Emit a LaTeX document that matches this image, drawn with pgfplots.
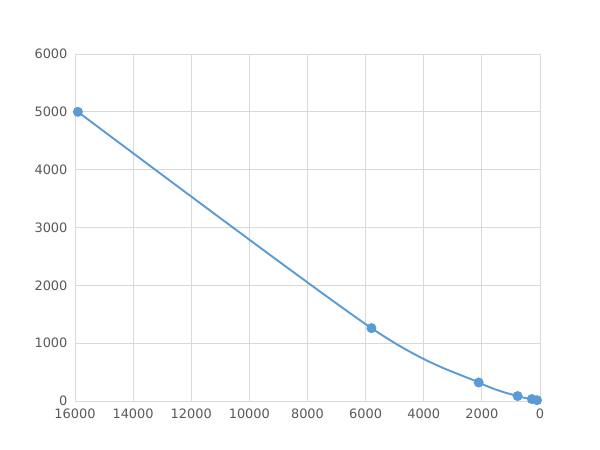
\documentclass[border=0pt]{standalone}
\usepackage{fontspec}
\setmainfont{DejaVu Sans}
\usepackage{pgfplots}
\pgfplotsset{compat=1.18}
\definecolor{lineblue}{HTML}{5B9BD5}
\definecolor{gridgray}{HTML}{D9D9D9}
\definecolor{labelgray}{HTML}{595959}
\begin{document}
\fontsize{13}{15}\selectfont
\begin{tikzpicture}
\begin{axis}[
  name=main,
  scale only axis,
  width=465bp,
  height=347bp,
  x dir=reverse,
  xmin=0, xmax=16000,
  ymin=0, ymax=6000,
  xtick distance=2000,
  ytick distance=1000,
  grid=major,
  major grid style={gridgray, line width=0.8bp},
  axis line style={gridgray, line width=0.8bp},
  tick style={draw=none},
  ticklabel style={font=\fontsize{13}{15}\selectfont, text=labelgray},
  x tick label style={yshift=-3bp},
  y tick label style={xshift=-3bp},
  /pgf/number format/assume math mode=true,
  /pgf/number format/1000 sep={},
  scaled ticks=false,
]
\addplot[lineblue, line width=1.9bp, smooth, tension=0.5,
  mark=*, mark size=4bp, mark options={fill=lineblue, draw=lineblue}]
  coordinates {
  (15900, 5000)
  (5800, 1260)
  (2110, 320)
  (770, 85)
  (280, 33)
  (102, 14)
  };
\end{axis}
\path[use as bounding box] ([xshift=-75bp,yshift=-49bp]main.south west) rectangle ([xshift=60bp,yshift=54bp]main.north east);
\end{tikzpicture}
\end{document}
